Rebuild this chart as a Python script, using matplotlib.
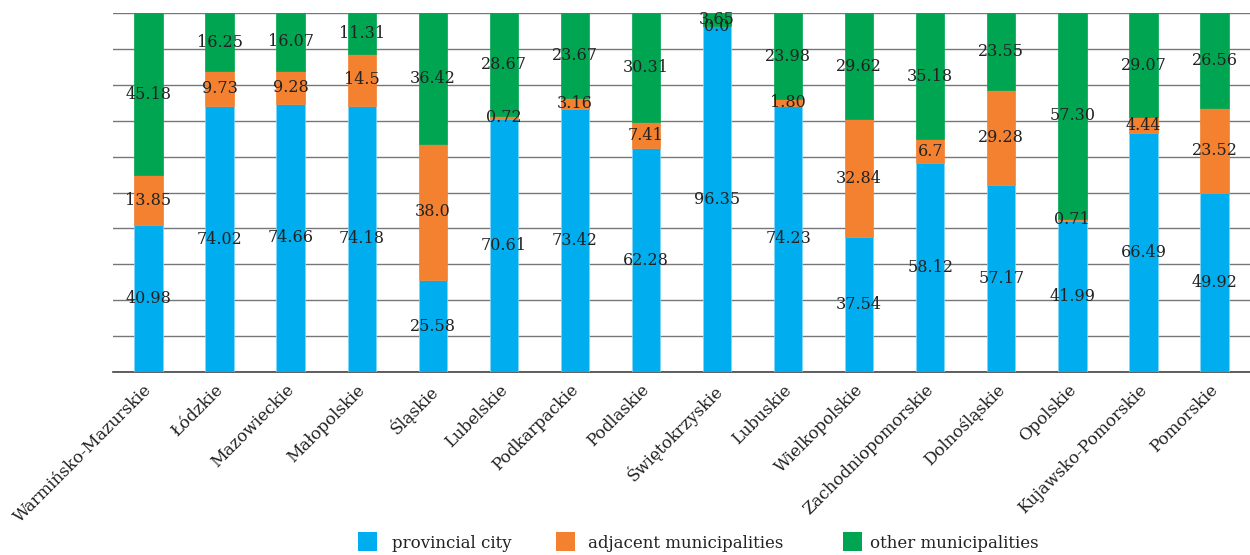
import matplotlib
matplotlib.use("Agg")
import matplotlib.pyplot as plt
import matplotlib.transforms as mtransforms
import numpy as np
from matplotlib.patches import Rectangle

regions = ["Warmińsko-Mazurskie", "Łódzkie", "Mazowieckie", "Małopolskie", "Śląskie",
           "Lubelskie", "Podkarpackie", "Podlaskie", "Świętokrzyskie", "Lubuskie",
           "Wielkopolskie", "Zachodniopomorskie", "Dolnośląskie", "Opolskie",
           "Kujawsko-Pomorskie", "Pomorskie"]
provincial_city = ["40.98", "74.02", "74.66", "74.18", "25.58", "70.61", "73.42", "62.28",
                   "96.35", "74.23", "37.54", "58.12", "57.17", "41.99", "66.49", "49.92"]
adjacent = ["13.85", "9.73", "9.28", "14.5", "38.0", "0.72", "3.16", "7.41",
            "0.0", "1.80", "32.84", "6.7", "29.28", "0.71", "4.44", "23.52"]
other = ["45.18", "16.25", "16.07", "11.31", "36.42", "28.67", "23.67", "30.31",
         "3.65", "23.98", "29.62", "35.18", "23.55", "57.30", "29.07", "26.56"]
series_names = ["provincial city", "adjacent municipalities", "other municipalities"]
colors = ["#00AEEF", "#F3812F", "#00A551"]

plt.rcParams['font.family'] = ['DejaVu Serif']
text_color = "#222222"
W, H = 1250, 555

fig = plt.figure(figsize=(12.5, 5.55), dpi=100)
ax = fig.add_axes([113/W, 1-372/H, 1-113/W, (372-13)/H])

series = [provincial_city, adjacent, other]
vals = np.array([[float(v) for v in s] for s in series])
totals = vals.sum(axis=0)
pct = vals / totals * 100
x = np.arange(len(regions))
bottom = np.zeros(len(regions))
for i, s in enumerate(series):
    ax.bar(x, pct[i], 0.40, bottom=bottom, color=colors[i], zorder=3,
           edgecolor="#7fd6f7" if i == 0 else colors[i], linewidth=0.5)
    for j in range(len(regions)):
        ax.text(x[j], bottom[j] + pct[i][j] / 2, s[j], ha="center", va="center",
                fontsize=11.5, color=text_color, zorder=5)
    bottom += pct[i]

ax.set_xlim(-0.5, len(regions) - 0.5)
ax.set_ylim(0, 100)
ax.set_yticks(np.arange(0, 101, 10))
ax.yaxis.grid(True, color="#777777", linewidth=1.0, zorder=0)
ax.tick_params(axis="y", length=0, labelleft=False)
for sp in ["top", "right", "left"]:
    ax.spines[sp].set_visible(False)
ax.spines["bottom"].set_color("#444444")
ax.spines["bottom"].set_linewidth(1.2)
ax.set_xticks(x)
ax.set_xticklabels(regions, rotation=45, ha="right", rotation_mode="anchor",
                   fontsize=12, color=text_color)
ax.tick_params(axis="x", length=0, pad=6)
offset = mtransforms.ScaledTranslation(-5/100, -1/100, fig.dpi_scale_trans)
for lbl in ax.get_xticklabels():
    lbl.set_transform(lbl.get_transform() + offset)

# legend (manual placement to match reference layout)
sq_x = [358, 556, 843]
txt_x = [392, 588, 870]
for i in range(3):
    fig.add_artist(Rectangle((sq_x[i]/W, 1-551/H), 18.5/W, 19/H, transform=fig.transFigure,
                             facecolor=colors[i], edgecolor="none"))
    fig.text(txt_x[i]/W, 1-543/H, series_names[i], ha="left", va="center",
             fontsize=12, color=text_color)

fig.savefig("out.png", dpi=100)
